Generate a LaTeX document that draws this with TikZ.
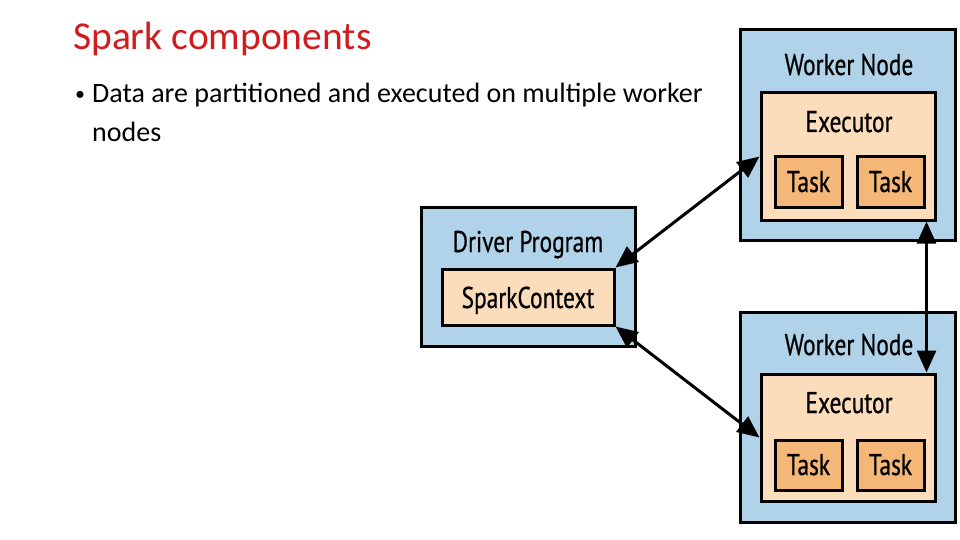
\documentclass[tikz,border=0pt]{standalone}
\usepackage{fontspec}
\setmainfont{Carlito}
\newfontfamily\diagfont[FakeStretch=0.78,FakeBold=0.6]{PT Sans}
\usetikzlibrary{shadows,arrows.meta,calc}
\definecolor{boxblue}{HTML}{B0D3EA}
\definecolor{peach}{HTML}{FCDDBB}
\definecolor{taskor}{HTML}{F5B778}
\definecolor{titlered}{HTML}{D01C1F}
\tikzset{
  outerbox/.style={draw=black, line width=3pt, fill=boxblue, rectangle, inner sep=0pt,
    drop shadow={shadow xshift=2pt, shadow yshift=-2pt, opacity=0.35, fill=black}},
  innerbox/.style={draw=black, line width=3pt, fill=peach, rectangle, inner sep=0pt},
  taskbox/.style={draw=black, line width=3pt, fill=taskor, rectangle, inner sep=0pt,
    minimum width=67pt, minimum height=50pt},
  lbl/.style={font=\diagfont\fontsize{30}{32}\selectfont, inner sep=0pt, anchor=base},
  conn/.style={line width=3pt, {Triangle[length=22pt,width=19pt]}-{Triangle[length=22pt,width=19pt]}}
}
\begin{document}
\begin{tikzpicture}[x=1pt,y=-1pt]
\useasboundingbox[fill=white] (0,0) rectangle (960,540);
% text
\node[anchor=base west, inner sep=0pt, text=titlered, font=\fontsize{39.5}{44}\selectfont] (title) at (73,50) {Spark components};
\node[anchor=base west, inner sep=0pt, font=\fontsize{28}{32}\selectfont] (b1) at (75,103) {\makebox[17pt][l]{\fontsize{20}{20}\selectfont\raisebox{2pt}{\textbullet}}Data are partitioned and executed on multiple worker};
\node[anchor=base west, inner sep=0pt, font=\fontsize{28}{32}\selectfont] (b2) at (92,142) {nodes};
% driver
\node[outerbox, minimum width=214pt, minimum height=139pt] (drv) at (528,276.5) {};
\node[lbl] (drvl) at (528,252) {Driver Program};
\node[innerbox, minimum width=172pt, minimum height=56pt] (sc) at (528,297) {};
\node[lbl] (scl) at (528,308) {SparkContext};
% worker 1
\node[outerbox, minimum width=215pt, minimum height=210pt] (w1) at (847.5,135) {};
\node[lbl] (w1l) at (849,75) {Worker Node};
\node[innerbox, minimum width=174pt, minimum height=127pt] (ex1) at (848,156.5) {};
\node[lbl] (ex1l) at (849,132) {Executor};
\node[taskbox] (t11) at (808.5,182) {};
\node[lbl] (t11l) at (808.5,192) {Task};
\node[taskbox] (t12) at (890.5,182) {};
\node[lbl] (t12l) at (890.5,192) {Task};
% worker 2
\node[outerbox, minimum width=215pt, minimum height=210pt] (w2) at (847.5,417) {};
\node[lbl] (w2l) at (849,355) {Worker Node};
\node[innerbox, minimum width=174pt, minimum height=127pt] (ex2) at (848,437.5) {};
\node[lbl] (ex2l) at (849,413) {Executor};
\node[taskbox] (t21) at (808.5,465) {};
\node[lbl] (t21l) at (808.5,475) {Task};
\node[taskbox] (t22) at (890.5,465) {};
\node[lbl] (t22l) at (890.5,475) {Task};
% connectors
\draw[conn] (sc.north east) -- (ex1.west);
\draw[conn] (sc.south east) -- (ex2.west);
\draw[conn] ($(ex1.south east)+(-10,0)$) -- ($(ex2.north east)+(-10,0)$);
\end{tikzpicture}
\end{document}
